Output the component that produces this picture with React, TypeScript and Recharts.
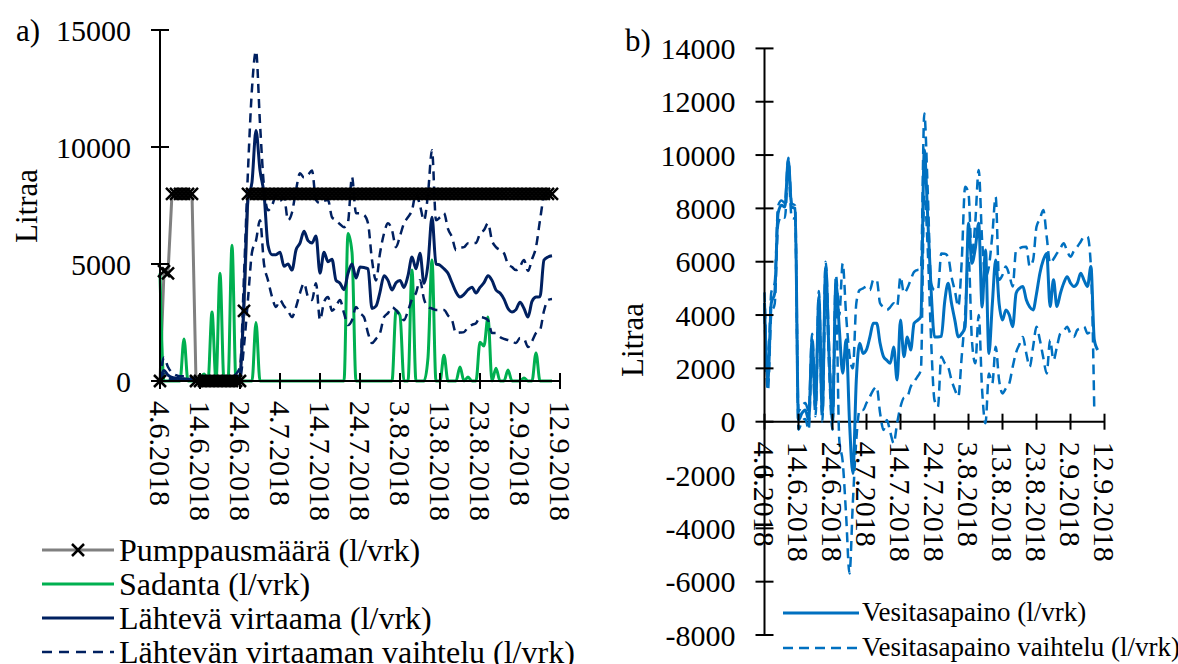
import { Legend, Line, LineChart, ReferenceLine, XAxis, YAxis } from "recharts";

const FONT = '"Liberation Serif", Tinos, "Times New Roman", Times, "DejaVu Serif", serif';

// päivät 4.6.2018 alkaen, x-akselin merkinnät 10 päivän välein
const tickDays = [0, 10, 20, 30, 40, 50, 60, 70, 80, 90, 100];
const tickLabels = [
  "4.6.2018", "14.6.2018", "24.6.2018", "4.7.2018", "14.7.2018", "24.7.2018",
  "3.8.2018", "13.8.2018", "23.8.2018", "2.9.2018", "12.9.2018",
];
const ticksA = [0, 5000, 10000, 15000];
const ticksB = [-8000, -6000, -4000, -2000, 0, 2000, 4000, 6000, 8000, 10000, 12000, 14000];

const namesA = [
  "Pumppausmäärä (l/vrk)",
  "Sadanta (l/vrk)",
  "Lähtevä virtaama (l/vrk)",
  "Lähtevän virtaaman vaihtelu (l/vrk)",
];
const namesB = ["Vesitasapaino (l/vrk)", "Vesitasapaino vaihtelu (l/vrk)"];

const pump = [
  0, 4700, 4600, 8000, 8000, 8000, 8000, 8000, 8000, 0,
  0, 0, 0, 0, 0, 0, 0, 0, 0, 0,
  0, 3000, 8000, 8000, 8000, 8000, 8000, 8000, 8000, 8000,
  8000, 8000, 8000, 8000, 8000, 8000, 8000, 8000, 8000, 8000,
  8000, 8000, 8000, 8000, 8000, 8000, 8000, 8000, 8000, 8000,
  8000, 8000, 8000, 8000, 8000, 8000, 8000, 8000, 8000, 8000,
  8000, 8000, 8000, 8000, 8000, 8000, 8000, 8000, 8000, 8000,
  8000, 8000, 8000, 8000, 8000, 8000, 8000, 8000, 8000, 8000,
  8000, 8000, 8000, 8000, 8000, 8000, 8000, 8000, 8000, 8000,
  8000, 8000, 8000, 8000, 8000, 8000, 8000, 8000, 8000,
];
const rain = [
  4600, 0, 0, 0, 0, 0, 1800, 0, 0, 0,
  100, 300, 0, 2950, 0, 4600, 0, 0, 5800, 0,
  0, 0, 0, 0, 2500, 0, 0, 0, 0, 0,
  0, 0, 0, 0, 0, 0, 0, 0, 0, 0,
  0, 0, 0, 0, 0, 0, 0, 6300, 5500, 0,
  0, 0, 0, 0, 0, 0, 0, 0, 0, 3000,
  2800, 0, 0, 4740, 0, 0, 0, 1000, 5170, 0,
  0, 1100, 0, 0, 0, 600, 0, 170, 0, 0,
  1660, 1500, 2730, 0, 550, 0, 0, 470, 0, 0,
  0, 130, 0, 0, 1200, 0, 0, 0, 0,
];
const outflow = [
  0, 450, 250, 150, 120, 100, 100, 80, 80, 60,
  60, 60, 60, 60, 60, 60, 60, 80, 100, 150,
  250, 3500, 7800, 8500, 10700, 9000, 8000, 5800, 5400, 5400,
  5500, 4900, 5000, 4740, 5600, 5890, 6400, 6000, 5900, 6200,
  4610, 5500, 5100, 5200, 4300, 4180, 3900, 4600, 5000, 4400,
  4870, 4850, 4800, 3100, 3200, 3800, 4500, 4300, 3890, 4200,
  4300, 4000, 4500, 5300, 4800, 5460, 4180, 5000, 7000, 5000,
  4950, 4800, 4600, 4200, 3800, 3590, 3700, 3900, 4010, 3760,
  4000, 4200, 4500, 4300, 3890, 3760, 3500, 3100, 2950, 3050,
  3370, 3100, 2730, 3400, 3590, 3600, 5170, 5300, 5350,
];
const outflowHigh = [
  0, 1000, 600, 350, 250, 200, 200, 150, 150, 120,
  120, 120, 120, 120, 120, 120, 120, 150, 200, 300,
  600, 4500, 9000, 12500, 14100, 11000, 8300, 7300, 7500, 7900,
  7700, 7860, 6870, 7200, 8150, 8880, 8700, 8800, 9000, 7730,
  7600, 7700, 7730, 7000, 6870, 6700, 6575, 6800, 8720, 7170,
  7170, 7100, 6740, 5170, 4300, 5460, 6300, 6740, 6450, 5720,
  6200, 6740, 7000, 7300, 8030, 7500, 6870, 8000, 9860, 6870,
  7000, 7170, 6500, 6150, 5590, 5700, 5720, 5890, 5890, 5900,
  6300, 6450, 6740, 6000, 5720, 5600, 5460, 5000, 4870, 4740,
  4900, 5170, 4700, 5200, 5720, 6870, 7860, 8000, 8100,
];
const outflowLow = [
  0, 300, 150, 50, 50, 50, 50, 50, 50, 50,
  50, 50, 50, 50, 50, 50, 50, 50, 50, 50,
  100, 1500, 3500, 5500, 6000, 6870, 5000, 4300, 3600, 3160,
  3460, 3200, 3000, 2730, 3160, 3760, 4180, 3600, 3460, 4180,
  2600, 3370, 3590, 3000, 3200, 3460, 2900, 2390, 2600, 3160,
  2900, 2730, 2050, 1620, 1800, 2050, 2730, 2900, 3160, 3030,
  2800, 2600, 3000, 3500, 3760, 4310, 3500, 3160, 3100, 3030,
  3030, 3030, 2800, 2600, 2050, 2070, 2090, 2300, 2400, 2470,
  2730, 2700, 2600, 2050, 2050, 1880, 1800, 1750, 1700, 1620,
  1840, 1800, 1450, 1700, 2050, 2180, 3000, 3460, 3500,
];

const balance = [
  4450, 1560, 4450, 4820, 7820, 8120, 8050, 9810, 8050, 8000,
  60, 320, 440, 60, 3070, 550, 4690, 320, 5820, 2440,
  60, 5190, 3500, 1820, 3070, 0, -1940, 1560, 2940, 2560,
  2700, 3180, 3690, 3690, 2940, 2440, 2300, 2190, 2800, 1560,
  3810, 2440, 3180, 2690, 3690, 3800, 3940, 10190, 7680, 4940,
  3180, 3180, 3200, 4500, 5190, 4440, 3800, 3180, 3300, 3560,
  7440, 5940, 6500, 7440, 4300, 6440, 2560, 4400, 6060, 4440,
  3810, 4190, 4000, 3560, 4820, 5000, 5070, 4570, 4300, 4190,
  4800, 5570, 6060, 6310, 4320, 5320, 4320, 4800, 5190, 5440,
  5200, 5070, 5190, 5570, 5300, 5070, 5820, 3070, 2690,
];
const balanceHigh = [
  4850, 2000, 4850, 5200, 8100, 8300, 8200, 9900, 8200, 8100,
  400, 600, 700, 400, 3300, 900, 4900, 700, 6000, 2800,
  400, 5500, 4000, 5940, 4000, 2500, 2000, 4440, 4940, 5000,
  5070, 4940, 5320, 5320, 4440, 4300, 4190, 4300, 4440, 4320,
  5440, 4820, 5000, 5320, 5620, 5690, 5700, 11560, 8690, 5190,
  4940, 4940, 6310, 6300, 6190, 5440, 4900, 4320, 6000, 8810,
  8560, 6190, 7500, 9440, 6810, 5440, 5820, 7000, 8430, 5320,
  5500, 5820, 5500, 5070, 6440, 6500, 6550, 6560, 5820, 6060,
  7310, 7600, 7940, 6940, 5940, 6100, 6310, 6500, 6690, 6400,
  6190, 6400, 6560, 6750, 6940, 6940, 5820, 400, null,
];
const balanceLow = [
  4050, 1160, 4050, 4420, 7400, 7700, 7650, 9400, 7650, 7600,
  -300, 0, 100, -300, 2700, 200, 4300, 0, 5400, 2000,
  -300, 4800, -700, -1500, -3500, -5690, -3000, -690, 440, 440,
  700, 940, 1190, 1310, 320, -310, 60, -400, -810, -60,
  560, 900, 940, 1310, 1500, 1690, 1940, 8500, 6500, 3060,
  810, 560, 2440, 2200, 2060, 1560, 1200, 940, 2440, 4000,
  6190, 3060, 2190, 4000, 1190, -60, 1810, 1440, 2810, 1560,
  1060, 1250, 1440, 2060, 2600, 2900, 3180, 2560, 2060, 2800,
  3560, 3060, 2400, 1810, 3060, 2310, 2800, 3310, 3400, 3560,
  3300, 3180, 3440, 3500, 3560, 3310, 3400, null, null,
];

const dataA = pump.map((p, i) => ({
  day: i,
  pump: p,
  rain: rain[i],
  outflow: outflow[i],
  high: outflowHigh[i],
  low: outflowLow[i],
}));
const dataB = balance.map((b, i) => ({
  day: i,
  balance: b,
  high: balanceHigh[i],
  low: balanceLow[i],
}));

const GRAY = "#808080";
const GREEN = "#00b050";
const NAVY = "#002060";
const BLUE = "#0070c0";

// kaavion b piirtoalueen korkeus, x-akseli piirretään nollatasolle
const B_TOP = 48.4;
const B_BOTTOM = 635;
const B_SHIFT = ((B_BOTTOM - B_TOP) * (0 - ticksB[0])) / (ticksB[ticksB.length - 1] - ticksB[0]);

function YTick(props: any) {
  const { x, y, payload } = props;
  return (
    <g>
      <line x1={x - 9} x2={x + 9} y1={y} y2={y} stroke="#000" strokeWidth={2} />
      <text x={x - 29} y={y} dy="0.35em" textAnchor="end" fontSize={30} style={{ fontFamily: FONT }} fill="#000">
        {payload.value}
      </text>
    </g>
  );
}

function makeXTick(shift: number) {
  return function XTick(props: any) {
    const { x, y, payload } = props;
    const ay = y - shift;
    const label = tickLabels[tickDays.indexOf(payload.value)];
    return (
      <g>
        <line x1={x} x2={x} y1={ay - 8} y2={ay + 8} stroke="#000" strokeWidth={2} />
        <text
          transform={`translate(${x},${ay + 20}) rotate(90)`}
          dy="0.35em"
          textAnchor="start"
          fontSize={30}
          style={{ fontFamily: FONT }}
          fill="#000"
        >
          {label}
        </text>
      </g>
    );
  };
}

function XMark(props: any) {
  const { cx, cy, index } = props;
  if (cx == null || cy == null) return <g key={index} />;
  const s = 6;
  return (
    <path
      key={index}
      d={`M${cx - s},${cy - s}L${cx + s},${cy + s}M${cx - s},${cy + s}L${cx + s},${cy - s}`}
      stroke="#000"
      strokeWidth={2.5}
    />
  );
}

function Titles({ letter, lx, ly, tx, ty }: any) {
  return (
    <g style={{ fontFamily: FONT }} fill="#000">
      <text x={lx} y={ly} dy="0.35em" fontSize={31}>
        {letter}
      </text>
      <text transform={`translate(${tx},${ty}) rotate(-90)`} dy="0.35em" textAnchor="middle" fontSize={31}>
        Litraa
      </text>
    </g>
  );
}

function LegendA() {
  const samples = [
    <g>
      <line x1={0} x2={72} y1={10} y2={10} stroke={GRAY} strokeWidth={3} />
      <path d="M30,4L42,16M30,16L42,4" stroke="#000" strokeWidth={2.5} />
    </g>,
    <line x1={0} x2={72} y1={10} y2={10} stroke={GREEN} strokeWidth={3} />,
    <line x1={0} x2={72} y1={10} y2={10} stroke={NAVY} strokeWidth={3} />,
    <line x1={0} x2={72} y1={10} y2={10} stroke={NAVY} strokeWidth={2.5} strokeDasharray="10 7" />,
  ];
  return (
    <div style={{ fontFamily: FONT, fontSize: 32, color: "#000" }}>
      {namesA.map((n, i) => (
        <div key={n} style={{ display: "flex", alignItems: "center", height: 34, whiteSpace: "nowrap" }}>
          <svg width={72} height={20} style={{ marginRight: 5, flex: "none" }}>
            {samples[i]}
          </svg>
          <span>{n}</span>
        </div>
      ))}
    </div>
  );
}

function LegendB() {
  return (
    <div style={{ fontFamily: FONT, fontSize: 27, color: "#000" }}>
      {namesB.map((n, i) => (
        <div key={n} style={{ display: "flex", alignItems: "center", height: 35, whiteSpace: "nowrap" }}>
          <svg width={76} height={20} style={{ marginRight: 3, flex: "none" }}>
            <line
              x1={0}
              x2={76}
              y1={10}
              y2={10}
              stroke={BLUE}
              strokeWidth={i === 0 ? 3 : 2.5}
              strokeDasharray={i === 0 ? undefined : "10 6"}
            />
          </svg>
          <span>{n}</span>
        </div>
      ))}
    </div>
  );
}

export default function App() {
  return (
    <div
      style={{
        position: "absolute",
        left: 0,
        top: 0,
        width: 1178,
        height: 664,
        background: "#fff",
        fontFamily: FONT,
      }}
    >
      <div style={{ position: "absolute", left: 0, top: 0 }}>
        <LineChart width={600} height={664} data={dataA} margin={{ top: 30, right: 40, bottom: 0, left: 0 }}>
          <XAxis
            dataKey="day"
            type="number"
            domain={[0, 100]}
            ticks={tickDays}
            interval={0}
            height={283}
            tickSize={0}
            tickMargin={0}
            tickLine={false}
            axisLine={{ stroke: "#000", strokeWidth: 2 }}
            tick={makeXTick(0)}
          />
          <YAxis
            type="number"
            domain={[0, 15000]}
            ticks={ticksA}
            interval={0}
            width={160}
            tickSize={0}
            tickMargin={0}
            tickLine={false}
            axisLine={{ stroke: "#000", strokeWidth: 2 }}
            tick={YTick}
            label={<Titles letter="a)" lx={16} ly={30} tx={26} ty={206} />}
          />
          <Legend
            layout="vertical"
            align="center"
            verticalAlign="middle"
            wrapperStyle={{ left: 42, top: 533, width: 560 }}
            content={() => <LegendA />}
          />
          <Line
            dataKey="pump"
            name={namesA[0]}
            type="linear"
            stroke={GRAY}
            strokeWidth={3}
            dot={XMark}
            activeDot={false}
            isAnimationActive={false}
          />
          <Line
            dataKey="rain"
            name={namesA[1]}
            type="monotone"
            stroke={GREEN}
            strokeWidth={3}
            dot={false}
            activeDot={false}
            isAnimationActive={false}
          />
          <Line
            dataKey="outflow"
            name={namesA[2]}
            type="monotone"
            stroke={NAVY}
            strokeWidth={3}
            dot={false}
            activeDot={false}
            isAnimationActive={false}
          />
          <Line
            dataKey="high"
            name={namesA[3]}
            type="monotone"
            stroke={NAVY}
            strokeWidth={2.5}
            strokeDasharray="9 6"
            dot={false}
            activeDot={false}
            isAnimationActive={false}
          />
          <Line
            dataKey="low"
            name={namesA[3]}
            type="monotone"
            stroke={NAVY}
            strokeWidth={2.5}
            strokeDasharray="9 6"
            dot={false}
            activeDot={false}
            isAnimationActive={false}
          />
        </LineChart>
      </div>
      <div style={{ position: "absolute", left: 600, top: 0 }}>
        <LineChart
          width={578}
          height={664}
          data={dataB}
          margin={{ top: B_TOP, right: 73.5, bottom: 0, left: 0 }}
        >
          <XAxis
            dataKey="day"
            type="number"
            domain={[0, 100]}
            ticks={tickDays}
            interval={0}
            height={664 - B_BOTTOM}
            tickSize={0}
            tickMargin={0}
            tickLine={false}
            axisLine={false}
            tick={makeXTick(B_SHIFT)}
          />
          <YAxis
            type="number"
            domain={[ticksB[0], ticksB[ticksB.length - 1]]}
            ticks={ticksB}
            interval={0}
            width={164.5}
            tickSize={0}
            tickMargin={0}
            tickLine={false}
            axisLine={{ stroke: "#000", strokeWidth: 2 }}
            tick={YTick}
            label={<Titles letter="b)" lx={25} ly={40} tx={32} ty={340} />}
          />
          <ReferenceLine y={0} stroke="#000" strokeWidth={2} />
          <Legend
            layout="vertical"
            align="center"
            verticalAlign="middle"
            wrapperStyle={{ left: 183, top: 595, width: 395 }}
            content={() => <LegendB />}
          />
          <Line
            dataKey="balance"
            name={namesB[0]}
            type="monotone"
            stroke={BLUE}
            strokeWidth={3}
            dot={false}
            activeDot={false}
            isAnimationActive={false}
          />
          <Line
            dataKey="high"
            name={namesB[1]}
            type="monotone"
            stroke={BLUE}
            strokeWidth={2.5}
            strokeDasharray="10 6"
            dot={false}
            activeDot={false}
            isAnimationActive={false}
          />
          <Line
            dataKey="low"
            name={namesB[1]}
            type="monotone"
            stroke={BLUE}
            strokeWidth={2.5}
            strokeDasharray="10 6"
            dot={false}
            activeDot={false}
            isAnimationActive={false}
          />
        </LineChart>
      </div>
    </div>
  );
}
